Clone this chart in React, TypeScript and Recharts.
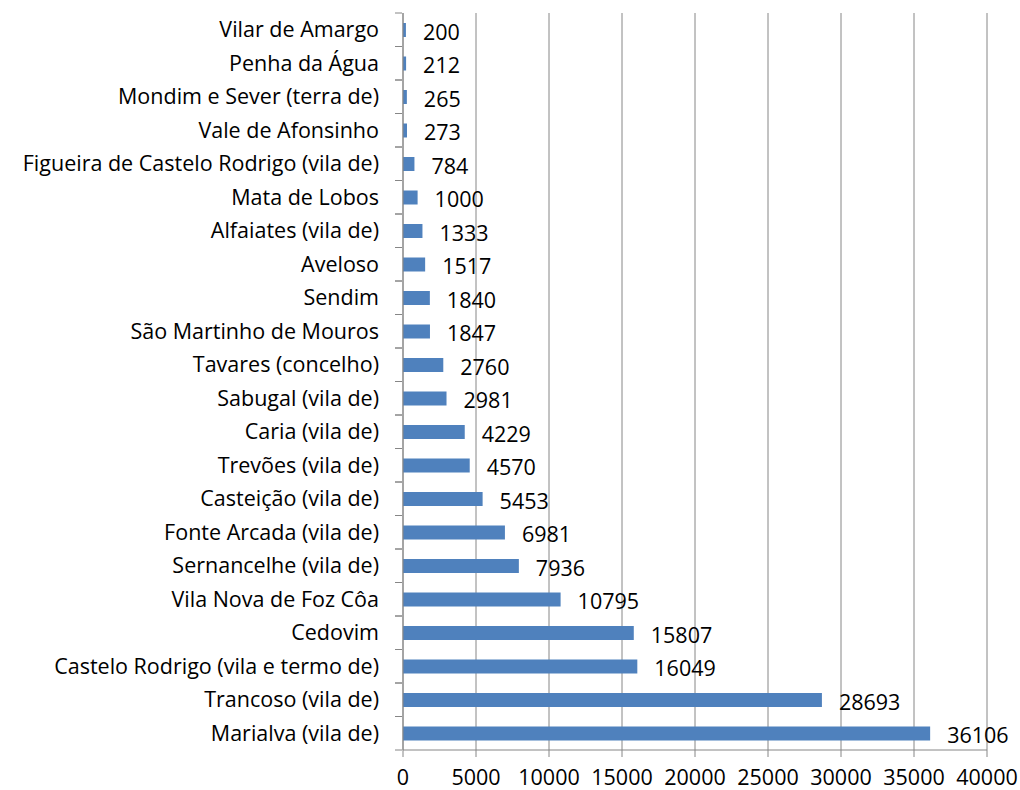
import { BarChart, Bar, XAxis, YAxis, CartesianGrid, LabelList } from "recharts";

const places = [
  "Vilar de Amargo",
  "Penha da Água",
  "Mondim e Sever (terra de)",
  "Vale de Afonsinho",
  "Figueira de Castelo Rodrigo (vila de)",
  "Mata de Lobos",
  "Alfaiates (vila de)",
  "Aveloso",
  "Sendim",
  "São Martinho de Mouros",
  "Tavares (concelho)",
  "Sabugal (vila de)",
  "Caria (vila de)",
  "Trevões (vila de)",
  "Casteição (vila de)",
  "Fonte Arcada (vila de)",
  "Sernancelhe (vila de)",
  "Vila Nova de Foz Côa",
  "Cedovim",
  "Castelo Rodrigo (vila e termo de)",
  "Trancoso (vila de)",
  "Marialva (vila de)",
];
const values = [
  200, 212, 265, 273, 784, 1000, 1333, 1517, 1840, 1847, 2760, 2981, 4229, 4570, 5453, 6981,
  7936, 10795, 15807, 16049, 28693, 36106,
];
const xTicks = [0, 5000, 10000, 15000, 20000, 25000, 30000, 35000, 40000];

const data = places.map((name, i) => ({ name, value: values[i] }));

const FONT = "'Open Sans', sans-serif";
const FS = 21.5;
const GRAY = "#868686";
const CHART_H = 790;
const TOP = 13;
const BOTTOM = 40;
const band = (CHART_H - TOP - BOTTOM) / places.length;

// category tick: text plus boundary tick marks (Excel style)
function CatTick(props: any) {
  const { x, y, payload } = props;
  const axisX = x + 7;
  return (
    <g>
      <line x1={axisX - 7} x2={axisX} y1={y - band / 2} y2={y - band / 2} stroke={GRAY} />
      <line x1={axisX - 7} x2={axisX} y1={y + band / 2} y2={y + band / 2} stroke={GRAY} />
      <text x={axisX - 23} y={y} dy="0.35em" textAnchor="end" fill="#000" fontSize={FS} fontFamily={FONT}>
        {payload.value}
      </text>
    </g>
  );
}

function ValueLabel(props: any) {
  const { x, y, width, height, value } = props;
  return (
    <text x={x + width + 17} y={y + height / 2 + 2} dy="0.35em" fill="#000" fontSize={FS} fontFamily={FONT}>
      {value}
    </text>
  );
}

export default function App() {
  return (
    <div style={{ position: "absolute", left: 0, top: 0, background: "#fff" }}>
      <BarChart
        width={1020}
        height={CHART_H}
        data={data}
        layout="vertical"
        margin={{ top: TOP, right: 33, bottom: 0, left: 0 }}
        barCategoryGap={0}
      >
        <CartesianGrid horizontal={false} vertical stroke={GRAY} strokeWidth={1} />
        <XAxis
          type="number"
          domain={[0, 40000]}
          ticks={xTicks}
          interval={0}
          height={BOTTOM}
          stroke={GRAY}
          tickSize={7}
          tickMargin={13}
          tick={{ fill: "#000", fontSize: FS, fontFamily: FONT }}
        />
        <YAxis
          type="category"
          dataKey="name"
          width={403}
          stroke={GRAY}
          tickLine={false}
          interval={0}
          tick={<CatTick />}
        />
        <Bar dataKey="value" fill="#4F81BD" barSize={14} isAnimationActive={false}>
          <LabelList dataKey="value" content={<ValueLabel />} />
        </Bar>
      </BarChart>
    </div>
  );
}
